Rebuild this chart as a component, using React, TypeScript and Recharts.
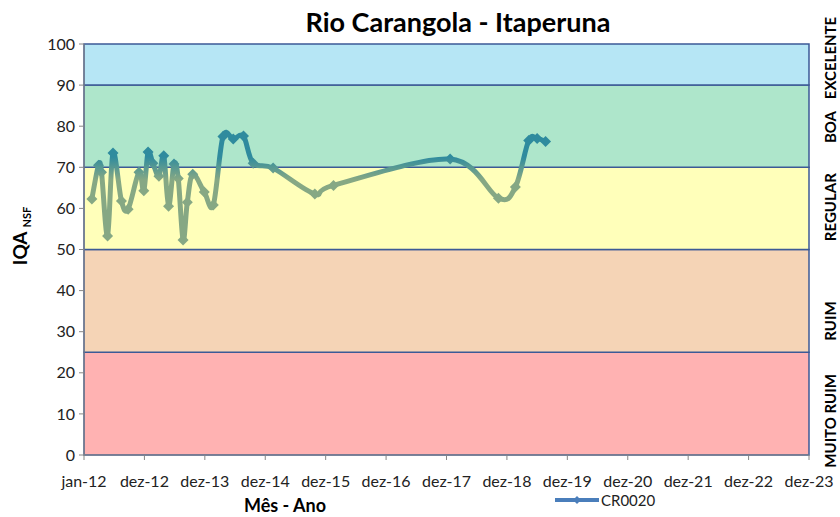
import { LineChart, Line, XAxis, YAxis, ReferenceArea } from 'recharts';

// position along the time axis, in years since jan-12 (tick 0 = jan-12, tick 1 = dez-12, ...)
const samplePos = [
  0.13, 0.24, 0.29, 0.39, 0.48, 0.62, 0.73, 0.91, 0.99, 1.06, 1.14, 1.24, 1.32, 1.4, 1.49, 1.56, 1.64,
  1.71, 1.8, 1.99, 2.14, 2.3, 2.47, 2.64, 2.8, 3.13, 3.82, 4.13, 6.06, 6.86, 7.14, 7.36, 7.5, 7.64,
];
const iqaValues = [
  62.3, 70.5, 68.8, 53.3, 73.5, 61.8, 59.8, 68.8, 64.3, 73.7, 71, 67.8, 72.8, 60.5, 70.8, 67.3, 52.3,
  61.5, 68.3, 64, 60.8, 77.5, 76.9, 77.6, 71, 69.8, 63.5, 65.6, 72, 62.5, 65.2, 76.5, 77, 76.3,
];
const xTickLabels = [
  'jan-12', 'dez-12', 'dez-13', 'dez-14', 'dez-15', 'dez-16', 'dez-17',
  'dez-18', 'dez-19', 'dez-20', 'dez-21', 'dez-22', 'dez-23',
];
const yTicks = [0, 10, 20, 30, 40, 50, 60, 70, 80, 90, 100];

const bandNames = ['MUITO RUIM', 'RUIM', 'REGULAR', 'BOA', 'EXCELENTE'];
const bandFrom = [0, 25, 50, 70, 90];
const bandTo = [25, 50, 70, 90, 100];
const bandLabelAt = [8.3, 32.6, 60.3, 79.8, 96.6];
const bandColors = ['#FFB2B2', '#F5D4B6', '#FFFFBA', '#AEE6CB', '#B6E6F5'];

const W = 840;
const H = 517;
const PLOT = { left: 84, right: 809, top: 44, bottom: 455 };
const FONT = 'Lato, "Open Sans", sans-serif';
const yPix = (v: number) => PLOT.top + ((100 - v) / 100) * (PLOT.bottom - PLOT.top);

const TEAL = '#2F8B9E';
const SAGE = '#86A884';

const data = samplePos.map((x, i) => ({ x, iqa: iqaValues[i] }));

// Excel-like smoothed line (Catmull-Rom through every point)
const smoothCurve = (context: any) => {
  let pts: number[][] = [];
  return {
    areaStart() {},
    areaEnd() {},
    lineStart() {
      pts = [];
    },
    point(x: number, y: number) {
      pts.push([+x, +y]);
    },
    lineEnd() {
      if (!pts.length) return;
      context.moveTo(pts[0][0], pts[0][1]);
      for (let i = 0; i < pts.length - 1; i++) {
        const p0 = pts[Math.max(i - 1, 0)];
        const p1 = pts[i];
        const p2 = pts[i + 1];
        const p3 = pts[Math.min(i + 2, pts.length - 1)];
        context.bezierCurveTo(
          p1[0] + (p2[0] - p0[0]) / 6,
          p1[1] + (p2[1] - p0[1]) / 6,
          p2[0] - (p3[0] - p1[0]) / 6,
          p2[1] - (p3[1] - p1[1]) / 6,
          p2[0],
          p2[1],
        );
      }
    },
  };
};

const Diamond = (props: any) => {
  const { cx, cy, index } = props;
  if (cx == null || cy == null) return null;
  const r = 5.5;
  return (
    <polygon
      key={`d-${index}`}
      points={`${cx},${cy - r} ${cx + r},${cy} ${cx},${cy + r} ${cx - r},${cy}`}
      fill="url(#iqaGrad)"
    />
  );
};

export default function App() {
  const classX = W - 10;
  return (
    <div style={{ position: 'absolute', left: 0, top: 0, width: W, height: H, background: '#fff' }}>
      <LineChart width={W} height={H} data={data} margin={{ top: PLOT.top, right: W - PLOT.right, bottom: 0, left: 0 }}>
        <defs>
          <linearGradient id="iqaGrad" gradientUnits="userSpaceOnUse" x1={0} y1={yPix(72.5)} x2={0} y2={yPix(67)}>
            <stop offset="0" stopColor={TEAL} />
            <stop offset="1" stopColor={SAGE} />
          </linearGradient>
        </defs>
        <XAxis
          dataKey="x"
          type="number"
          domain={[0, 12]}
          ticks={xTickLabels.map((_, i) => i)}
          tickFormatter={(v: number) => xTickLabels[v]}
          interval={0}
          height={H - PLOT.bottom}
          stroke="#868686"
          tickSize={5}
          tickMargin={16}
          tick={{ fill: '#222', fontSize: 16, fontFamily: FONT }}
        />
        <YAxis
          domain={[0, 100]}
          ticks={yTicks}
          interval={0}
          width={PLOT.left}
          stroke="#868686"
          tickSize={5}
          tickMargin={4}
          tick={{ fill: '#222', fontSize: 16, fontFamily: FONT }}
        />
        {bandFrom.map((from, i) => (
          <ReferenceArea
            key={bandNames[i]}
            y1={from}
            y2={bandTo[i]}
            fill={bandColors[i]}
            fillOpacity={1}
            stroke="#3C5A96"
            strokeWidth={1.5}
          />
        ))}
        <Line
          dataKey="iqa"
          type={smoothCurve as any}
          stroke="url(#iqaGrad)"
          strokeWidth={5}
          strokeLinejoin="round"
          dot={<Diamond />}
          activeDot={false}
          isAnimationActive={false}
        />
      </LineChart>
      <svg width={W} height={H} style={{ position: 'absolute', left: 0, top: 0, pointerEvents: 'none' }}>
        <text x={458} y={32} textAnchor="middle" fontFamily={FONT} fontWeight={700} fontSize={27} fill="#000">
          Rio Carangola - Itaperuna
        </text>
        <text
          x={27}
          y={236}
          transform="rotate(-90, 27, 236)"
          textAnchor="middle"
          fontFamily={FONT}
          fontWeight={700}
          fill="#000"
        >
          <tspan fontSize={19}>IQA</tspan>
          <tspan fontSize={11} dx={4} dy={4}>NSF</tspan>
        </text>
        {bandNames.map((name, i) => {
          const y = yPix(bandLabelAt[i]);
          return (
            <text
              key={name}
              x={classX}
              y={y}
              transform={`rotate(-90, ${classX}, ${y})`}
              textAnchor="middle"
              dominantBaseline="central"
              fontFamily={FONT}
              fontWeight={700}
              fontSize={15}
              fill="#000"
            >
              {name}
            </text>
          );
        })}
        <text x={285} y={512} textAnchor="middle" fontFamily={FONT} fontWeight={700} fontSize={18} fill="#000">
          Mês - Ano
        </text>
        <line x1={555} y1={500} x2={599} y2={500} stroke="#4A7EBB" strokeWidth={4} />
        <polygon points="577,496 581,500 577,504 573,500" fill="#4A7EBB" />
        <text x={601} y={506} fontFamily={FONT} fontSize={15} fill="#222">
          CR0020
        </text>
      </svg>
    </div>
  );
}
